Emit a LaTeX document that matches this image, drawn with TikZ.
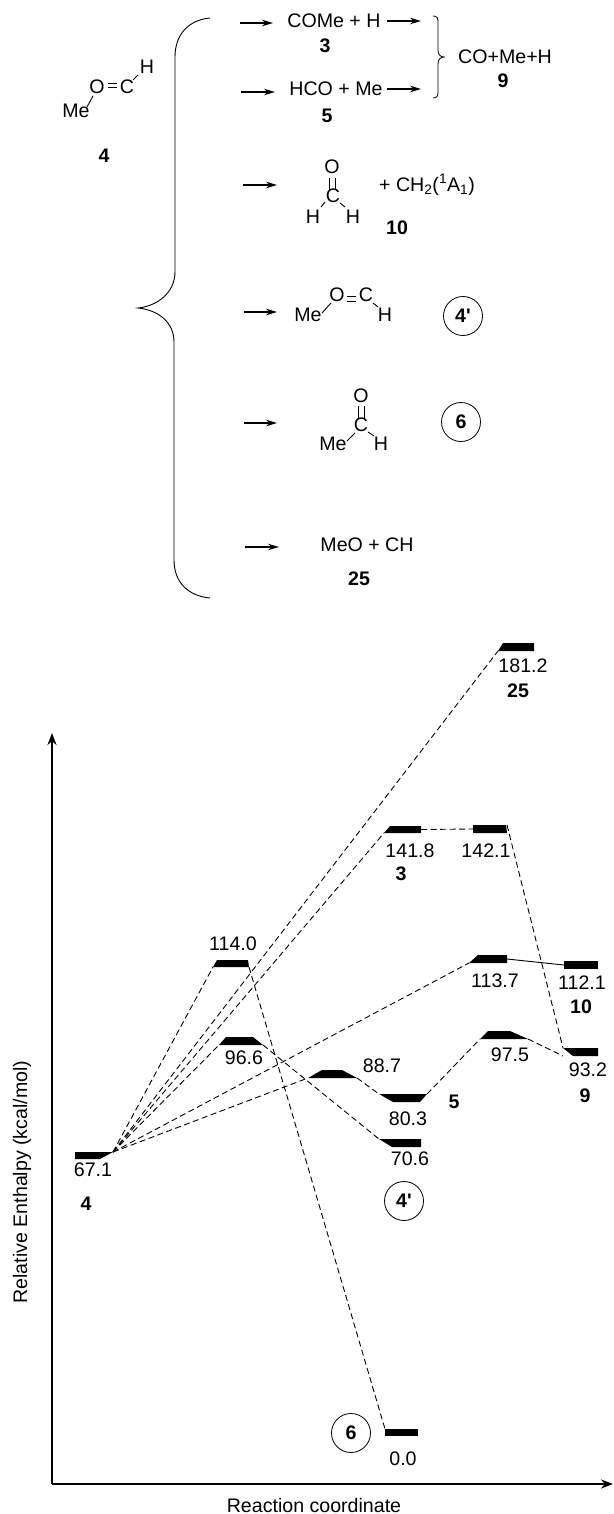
\documentclass[tikz,border=0pt]{standalone}
\usepackage{fontspec}
\setmainfont[Ligatures=TeXOff]{Liberation Sans}
\usetikzlibrary{fit,arrows.meta}
\newcommand{\levelbar}[9]{%
  % name, x1, x2, y1, y2, chip top-left, top-right, bottom-right, bottom-left
  \node[fit={(#2,#4)(#3,#5)},inner sep=0pt,outer sep=0pt] (#1) {};
  \pgfmathsetmacro{\tlx}{#2+#6}\pgfmathsetmacro{\trx}{#3-#7}
  \pgfmathsetmacro{\brx}{#3-#8}\pgfmathsetmacro{\blx}{#2+#9}
  \fill (\tlx,#4) -- (\trx,#4) -- (\brx,#5) -- (\blx,#5) -- cycle;}
\tikzset{
  txt/.style={inner sep=0pt,font=\fontsize{19.6}{22}\selectfont},
  lbl/.style={inner sep=0pt,font=\fontsize{19.6}{22}\selectfont\bfseries},
  bond/.style={line width=0.9pt},
  rxn/.style={line width=1.4pt,-{Stealth[length=11pt,width=6.5pt]}},
  brc/.style={line width=0.9pt},
  axis/.style={line width=2pt,-{Stealth[length=12pt,width=9pt]}},
  dsh/.style={line width=0.9pt,dash pattern=on 6pt off 3.5pt},
  sol/.style={line width=0.9pt},
  ring/.style={circle,draw,line width=0.8pt,minimum size=39pt,inner sep=0pt,font=\fontsize{19.6}{22}\selectfont\bfseries}
}
\begin{document}
\begin{tikzpicture}[x=1pt,y=-1pt]
\useasboundingbox (0,0) rectangle (613,1514);
% --- molecule 4
\node[txt] (a4me) at (76,111) {Me};
\node[txt] (a4o) at (97,87) {O};
\node[txt] (a4c) at (127,87) {C};
\node[txt] (a4h) at (147,67) {H};
\node[lbl] (a4l) at (104,156) {4};
\draw[bond] (93,96) -- (87,107);
\draw[bond] (108,83) -- (117,83) (108,87) -- (117,87);
\draw[bond] (133,80) -- (138,75);
% --- large brace
\draw[brc] (210,18) .. controls (188,20) and (175,35) .. (175,57) -- (175,272)
  .. controls (175,292) and (158,306) .. (138,308)
  .. controls (158,310) and (174,322) .. (174,342) -- (174,560)
  .. controls (174,582) and (188,596) .. (210,598);
% --- row 1, 2
\coordinate (r1a) at (240,23); \coordinate (r1b) at (273,23);
\draw[rxn] (r1a) -- (r1b);
\node[txt] (come) at (334,21) {COMe + H};
\node[lbl] (n3) at (325,46) {3};
\coordinate (r1c) at (387,21); \coordinate (r1d) at (421,21);
\draw[rxn] (r1c) -- (r1d);
\coordinate (r2a) at (241,92); \coordinate (r2b) at (275,92);
\draw[rxn] (r2a) -- (r2b);
\node[txt] (hco) at (336,89) {HCO + Me};
\node[lbl] (n5) at (327,116) {5};
\coordinate (r2c) at (387,89); \coordinate (r2d) at (421,89);
\draw[rxn] (r2c) -- (r2d);
\draw[brc,line width=0.8pt] (433,16) .. controls (437,16) and (438,18) .. (438,22) -- (438,50)
  .. controls (438,54) and (440,57) .. (444,57)
  .. controls (440,57) and (438,60) .. (438,64) -- (438,92)
  .. controls (438,96) and (437,98) .. (433,98);
\node[txt,anchor=west] (co) at (458,57) {CO+Me+H};
\node[lbl] (n9) at (503,81) {9};
% --- row 3
\coordinate (r3a) at (243,185); \coordinate (r3b) at (277,185);
\draw[rxn] (r3a) -- (r3b);
\node[txt] (f3o) at (332,167) {O};
\node[txt] (f3c) at (333,196) {C};
\node[txt] (f3h1) at (313,217) {H};
\node[txt] (f3h2) at (353,217) {H};
\draw[bond] (329.5,178) -- (329.5,190) (335,178) -- (335,190);
\draw[bond] (325,202) -- (321,207) (340,203) -- (345,207);
\node[txt] (ch2) at (427,185) {+ CH\textsubscript{2}(\textsuperscript{1}A\textsubscript{1})};
\node[lbl] (n10) at (397,228) {10};
% --- row 4
\coordinate (r4a) at (244,312); \coordinate (r4b) at (277,312);
\draw[rxn] (r4a) -- (r4b);
\node[txt] (b4me) at (308,315) {Me};
\node[txt] (b4o) at (337,295) {O};
\node[txt] (b4c) at (366,295) {C};
\node[txt] (b4h) at (385,315) {H};
\draw[bond] (322,313) -- (331,303);
\draw[bond] (347,296) -- (356,296) (347,301) -- (356,301);
\draw[bond] (373,303) -- (378,307);
\node[ring] (c4p) at (463,316) {4'};
% --- row 5
\coordinate (r5a) at (244,423); \coordinate (r5b) at (277,423);
\draw[rxn] (r5a) -- (r5b);
\node[txt] (e6o) at (361,396) {O};
\node[txt] (e6c) at (361,425) {C};
\node[txt] (e6me) at (333,444) {Me};
\node[txt] (e6h) at (381,444) {H};
\draw[bond] (358.7,406) -- (358.7,418) (364,406) -- (364,418);
\draw[bond] (347,441) -- (355,433) (368,432) -- (374,436);
\node[ring] (c6) at (461,422) {6};
% --- row 6
\coordinate (r6a) at (245,547); \coordinate (r6b) at (279,547);
\draw[rxn] (r6a) -- (r6b);
\node[txt] (meo) at (367,545) {MeO + CH};
\node[lbl] (n25) at (359,579) {25};
% --- axes
\coordinate (org) at (52,1484);
\coordinate (ytop) at (52,733);
\coordinate (xend) at (613,1484);
\draw[axis] (org) -- (ytop);
\draw[axis] (org) -- (xend);
\node[txt,rotate=90] (yl) at (22,1182) {Relative Enthalpy (kcal/mol)};
\node[txt] (xl) at (314,1505) {Reaction coordinate};
% --- levels
\levelbar{L4}{75}{113}{1152}{1159}{0}{0}{13}{0}
\levelbar{Lts}{213}{249}{960}{967}{4}{1}{0}{0}
\levelbar{Lnn}{219}{263}{1037}{1045}{7}{10}{0}{0}
\levelbar{Leight}{308}{357}{1070}{1078}{14}{15}{0}{0}
\levelbar{Leighty}{379}{427}{1094}{1102}{0}{0}{7}{14}
\levelbar{Lseventy}{379}{421}{1139}{1147}{0}{0}{0}{13}
\levelbar{Ltop}{498}{534}{643}{651}{5}{0}{0}{0}
\levelbar{Lthree}{384}{421}{826}{833}{6}{0}{0}{0}
\levelbar{Lfour}{473}{507}{825}{833}{0}{1}{0}{0}
\levelbar{Lmid}{469}{507}{955}{963}{9}{0}{0}{0}
\levelbar{Lten}{564}{598}{961}{969}{0}{0}{0}{0}
\levelbar{Lnine}{480}{528}{1031}{1039}{8}{18}{0}{0}
\levelbar{Lend}{563}{598}{1048}{1056}{0}{0}{0}{10}
\levelbar{Lzero}{385}{418}{1429}{1436}{0}{0}{0}{0}
% --- connectors
\draw[dsh] (L4.north east) -- (Lts.south west);
\draw[dsh] (L4.north east) -- (Ltop.south west);
\draw[dsh] (L4.north east) -- (Lthree.south west);
\draw[dsh] (L4.north east) -- (Lnn.south west);
\draw[dsh] (L4.north east) -- (Lmid.south west);
\draw[dsh] (L4.north east) -- (Leight.south west);
\draw[dsh] (Lts.south east) -- (Lzero.north west);
\draw[dsh] (Lnn.south east) -- (Lseventy.north west);
\draw[dsh] (Leight.south east) -- (Leighty.north west);
\draw[dsh] (Leighty.north east) -- (Lnine.south west);
\draw[dsh] (Lnine.south east) -- (Lend.south west);
\draw[dsh] (Lthree.east) -- (Lfour.west);
\draw[dsh] (Lfour.north east) -- (Lend.north west);
\draw[sol] (Lmid.east) -- (Lten.west);
% --- level labels
\node[txt] (v67) at (93,1170) {67.1};
\node[lbl] (l4) at (86,1204) {4};
\node[txt] (v114) at (233,944) {114.0};
\node[txt] (v96) at (244,1058) {96.6};
\node[txt] (v88) at (382,1066) {88.7};
\node[txt] (v80) at (408,1119) {80.3};
\node[txt] (v70) at (410,1159) {70.6};
\node[ring] (c4b) at (404,1201) {4'};
\node[txt] (v181) at (523,666) {181.2};
\node[lbl] (l25) at (518,691) {25};
\node[txt] (v141) at (410,851) {141.8};
\node[lbl] (l3) at (401,874) {3};
\node[txt] (v142) at (486,851) {142.1};
\node[txt] (v113) at (495,981) {113.7};
\node[txt] (v112) at (582,983) {112.1};
\node[lbl] (l10) at (581,1007) {10};
\node[txt] (v97) at (510,1055) {97.5};
\node[txt] (v93) at (588,1070) {93.2};
\node[lbl] (l9) at (585,1096) {9};
\node[lbl] (l5) at (454,1102) {5};
\node[ring] (c6b) at (351,1433) {6};
\node[txt] (v0) at (403,1459) {0.0};
\end{tikzpicture}
\end{document}
